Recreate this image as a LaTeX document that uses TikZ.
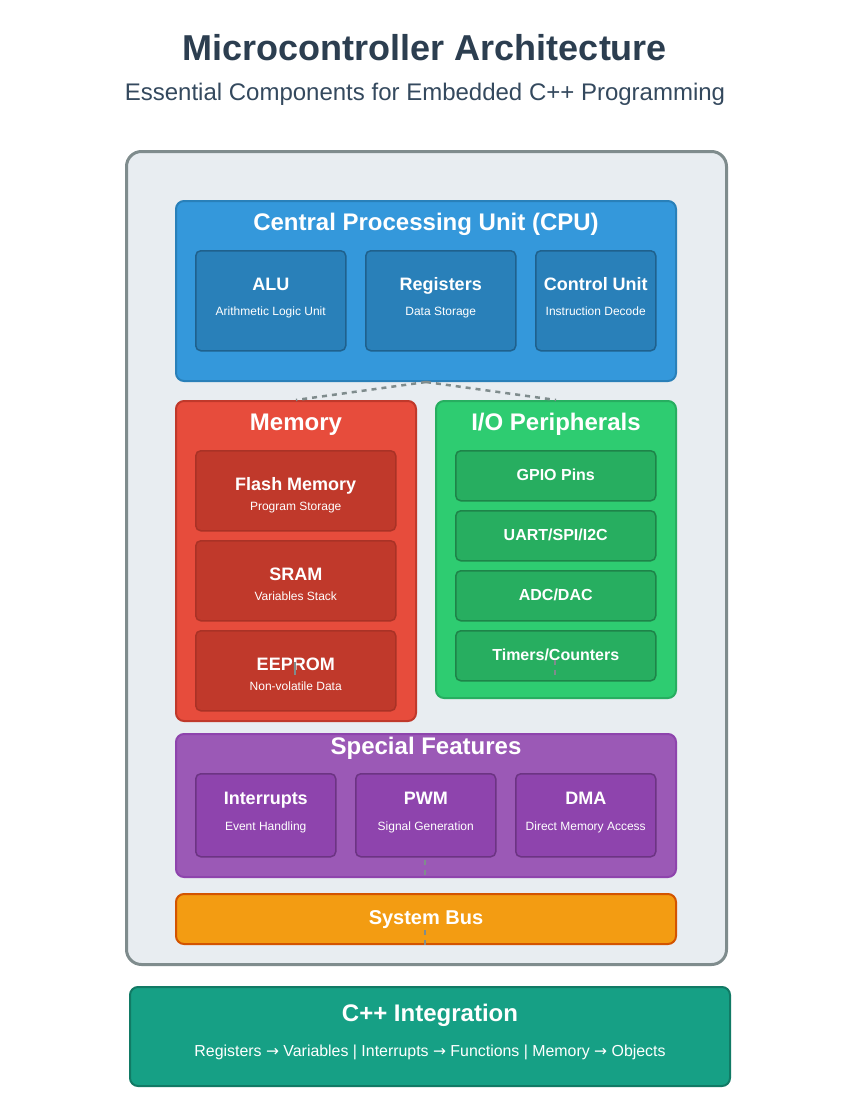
\documentclass[tikz,border=0pt]{standalone}
\usepackage{fontspec}
\setmainfont{Liberation Sans}
\newfontfamily\arrowfont{DejaVu Sans}
\usetikzlibrary{positioning}
\usetikzlibrary{calc}
\definecolor{headgray}{HTML}{2C3E50}
\definecolor{subgray}{HTML}{34495E}
\definecolor{shellfill}{HTML}{E8EDF1}
\definecolor{shelledge}{HTML}{7F8C8D}
\definecolor{cpublue}{HTML}{3498DB}
\definecolor{cpuedge}{HTML}{2980B9}
\definecolor{cpudark}{HTML}{1F618D}
\definecolor{memred}{HTML}{E74C3C}
\definecolor{memedge}{HTML}{C0392B}
\definecolor{memdark}{HTML}{A93226}
\definecolor{iogreen}{HTML}{2ECC71}
\definecolor{ioedge}{HTML}{27AE60}
\definecolor{iodark}{HTML}{1E8449}
\definecolor{specpurple}{HTML}{9B59B6}
\definecolor{specedge}{HTML}{8E44AD}
\definecolor{specdark}{HTML}{6C3483}
\definecolor{busorange}{HTML}{F39C12}
\definecolor{busedge}{HTML}{D35400}
\definecolor{cppteal}{HTML}{16A085}
\definecolor{cppedge}{HTML}{117A65}
\newcommand{\mapsarrow}{{\arrowfont\fontsize{15.5}{19}\selectfont →}}

\begin{document}
\begin{tikzpicture}[x=1pt, y=-1pt,
    frame/.style={draw, rounded corners=8pt, line width=2pt, anchor=north west, inner sep=0pt},
    part/.style={draw, rounded corners=5pt, line width=1.5pt, anchor=north west, inner sep=0pt},
    head/.style={text=white, anchor=base, inner sep=0pt, font=\fontsize{24}{28}\selectfont\bfseries},
    parthead/.style={text=white, anchor=base, inner sep=0pt, font=\fontsize{18}{21}\selectfont\bfseries},
    partsub/.style={text=white, anchor=base, inner sep=0pt, font=\fontsize{12}{14}\selectfont},
    iohead/.style={text=white, anchor=base, inner sep=0pt, font=\fontsize{16}{19}\selectfont\bfseries},
    buslink/.style={draw=shelledge, line width=2.5pt, dash pattern=on 5pt off 5pt}]

    \useasboundingbox[fill=white] (0,0) rectangle (850,1100);

    % heading
    \node[anchor=base, text=headgray, font=\fontsize{36}{40}\selectfont\bfseries] (title) at (425,60) {Microcontroller Architecture};
    \node[anchor=base, text=subgray, font=\fontsize{24}{28}\selectfont] (subtitle) at (425,100) {Essential Components for Embedded C++ Programming};

    % outer shell
    \node[draw=shelledge, fill=shellfill, rounded corners=15pt, line width=3pt, anchor=north west, minimum width=600pt, minimum height=813pt] (shell) at (125,150) {};

    % links
    \node[frame, fill=cpublue, draw=cpuedge, minimum width=500pt, minimum height=180pt] (cpu) at (175,200) {};
    \node[frame, fill=memred, draw=memedge, minimum width=240pt, minimum height=320pt] (mem) at (175,400) {};
    \node[frame, fill=iogreen, draw=ioedge, minimum width=240pt, minimum height=297pt] (io) at (435,400) {};
    \draw[buslink] (cpu.south) -- (mem.north);
    \draw[buslink] (cpu.south) -- (io.north);

    % CPU
    \node[head] at ([yshift=-30pt]cpu.north) {Central Processing Unit (CPU)};
    \node[part, fill=cpuedge, draw=cpudark, minimum width=150pt, minimum height=100pt] (alu) at (195,250) {};
    \node[part, fill=cpuedge, draw=cpudark, minimum width=150pt, minimum height=100pt] (regs) at (365,250) {};
    \node[part, fill=cpuedge, draw=cpudark, minimum width=120pt, minimum height=100pt] (ctrl) at (535,250) {};
    \node[parthead] at ([yshift=-40pt]alu.north) {ALU};
    \node[partsub] at ([yshift=-65pt]alu.north) {Arithmetic Logic Unit};
    \node[parthead] at ([yshift=-40pt]regs.north) {Registers};
    \node[partsub] at ([yshift=-65pt]regs.north) {Data Storage};
    \node[parthead] at ([yshift=-40pt]ctrl.north) {Control Unit};
    \node[partsub] at ([yshift=-65pt]ctrl.north) {Instruction Decode};

    % memory
    \node[head] at ([yshift=-30pt]mem.north) {Memory};
    \node[part, fill=memedge, draw=memdark, minimum width=200pt, minimum height=80pt] (flash) at (195,450) {};
    \node[part, fill=memedge, draw=memdark, minimum width=200pt, minimum height=80pt] (sram) at (195,540) {};
    \node[part, fill=memedge, draw=memdark, minimum width=200pt, minimum height=80pt] (eeprom) at (195,630) {};
    \node[parthead] at ([yshift=-40pt]flash.north) {Flash Memory};
    \node[partsub] at ([yshift=-60pt]flash.north) {Program Storage};
    \node[parthead] at ([yshift=-40pt]sram.north) {SRAM};
    \node[partsub] at ([yshift=-60pt]sram.north) {Variables Stack};
    \node[parthead] at ([yshift=-40pt]eeprom.north) {EEPROM};
    \node[partsub] at ([yshift=-60pt]eeprom.north) {Non-volatile Data};

    % I/O
    \node[head] at ([yshift=-30pt]io.north) {I/O Peripherals};
    \node[part, fill=ioedge, draw=iodark, minimum width=200pt, minimum height=50pt] (gpio) at (455,450) {};
    \node[part, fill=ioedge, draw=iodark, minimum width=200pt, minimum height=50pt] (uart) at (455,510) {};
    \node[part, fill=ioedge, draw=iodark, minimum width=200pt, minimum height=50pt] (adc) at (455,570) {};
    \node[part, fill=ioedge, draw=iodark, minimum width=200pt, minimum height=50pt] (timers) at (455,630) {};
    \node[iohead] at ([yshift=-30pt]gpio.north) {GPIO Pins};
    \node[iohead] at ([yshift=-30pt]uart.north) {UART/SPI/I2C};
    \node[iohead] at ([yshift=-30pt]adc.north) {ADC/DAC};
    \node[iohead] at ([yshift=-30pt]timers.north) {Timers/Counters};

    % special features
    \node[frame, fill=specpurple, draw=specedge, minimum width=500pt, minimum height=143pt] (spec) at (175,733) {};
    \node[head] at ([yshift=-21pt]spec.north) {Special Features};
    \node[part, fill=specedge, draw=specdark, minimum width=140pt, minimum height=83pt] (irq) at (195,773) {};
    \node[part, fill=specedge, draw=specdark, minimum width=140pt, minimum height=83pt] (pwm) at (355,773) {};
    \node[part, fill=specedge, draw=specdark, minimum width=140pt, minimum height=83pt] (dma) at (515,773) {};
    \node[parthead] at ([yshift=-31pt]irq.north) {Interrupts};
    \node[partsub] at ([yshift=-57pt]irq.north) {Event Handling};
    \node[parthead] at ([yshift=-31pt]pwm.north) {PWM};
    \node[partsub] at ([yshift=-57pt]pwm.north) {Signal Generation};
    \node[parthead] at ([yshift=-31pt]dma.north) {DMA};
    \node[partsub] at ([yshift=-57pt]dma.north) {Direct Memory Access};

    % system bus
    \node[frame, fill=busorange, draw=busedge, minimum width=500pt, minimum height=50pt] (bus) at (175,893) {};
    \node[head, font=\fontsize{20}{23}\selectfont\bfseries] at ([yshift=-31pt]bus.north) {System Bus};

    % stray link ends
    \coordinate (eepromA) at (295,662);
    \coordinate (eepromB) at (295,675);
    \coordinate (timersA) at (555,660);
    \coordinate (timersB) at (555,675);
    \coordinate (specA) at (425,860);
    \coordinate (specB) at (425,875);
    \coordinate (busA) at (425,930);
    \coordinate (busB) at (425,945);
    \draw[buslink, dash pattern=on 13pt off 5pt] (eepromA) -- (eepromB);
    \draw[buslink, dash pattern=on 4.5pt off 5.5pt] (timersA) -- (timersB);
    \draw[buslink, dash pattern=on 4.5pt off 5.5pt] (specA) -- (specB);
    \draw[buslink, dash pattern=on 4.5pt off 5.5pt] (busA) -- (busB);

    % C++ mapping
    \node[frame, fill=cppteal, draw=cppedge, minimum width=600pt, minimum height=99pt] (cpp) at (129,986) {};
    \node[head] at ([yshift=-35pt]cpp.north) {C++ Integration};
    \node[partsub, font=\fontsize{15.9}{19}\selectfont] at ([yshift=-70pt]cpp.north) {Registers \mapsarrow{} Variables | Interrupts \mapsarrow{} Functions | Memory \mapsarrow{} Objects};
\end{tikzpicture}
\end{document}
